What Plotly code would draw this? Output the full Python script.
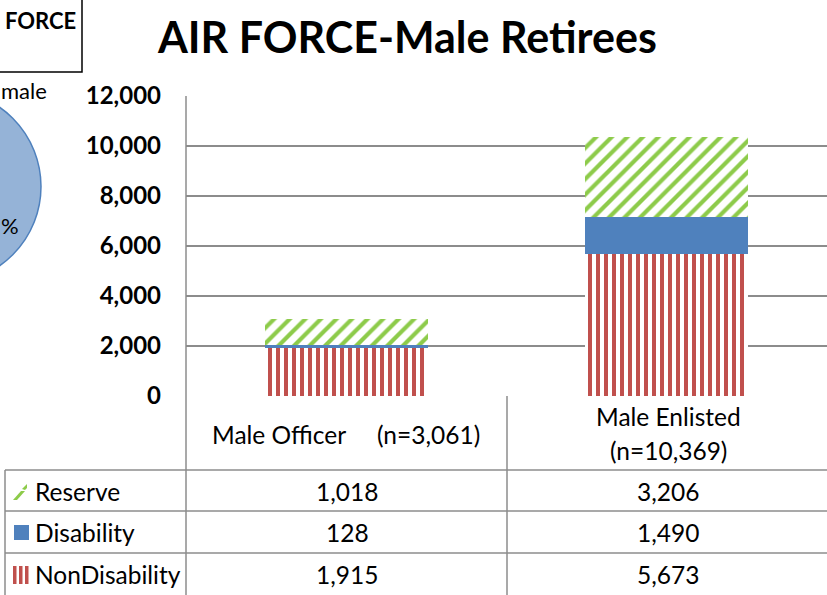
import plotly.graph_objects as go

# ---------------- data ----------------
categories = ["Male Officer", "Male Enlisted"]
nondisability = [1915, 5673]
disability = [128, 1490]
reserve = [1018, 3206]
series_names = ["Reserve", "Disability", "NonDisability"]  # table row order
y_ticks = [0, 2000, 4000, 6000, 8000, 10000, 12000]
title_text = "AIR FORCE-Male Retirees"

# ---------------- helpers ----------------
W, H = 827, 595
FONT = "Lato"
GRID = "#8C8C8C"


def X(px):
    return px / W


def Y(py):
    return 1 - py / H


totals = [a + b + c for a, b, c in zip(nondisability, disability, reserve)]

fig = go.Figure()
BW = 0.51
fig.add_bar(
    x=categories, y=nondisability, name="NonDisability", width=BW,
    marker=dict(color="#C0504D", line_width=0,
                pattern=dict(shape="|", fgcolor="#C0504D", bgcolor="white",
                             size=8, solidity=0.5, fillmode="replace")),
)
fig.add_bar(
    x=categories, y=disability, name="Disability", width=BW,
    marker=dict(color="#4F81BD", line_width=0),
)
fig.add_bar(
    x=categories, y=reserve, name="Reserve", width=BW,
    marker=dict(color="#8DCB4A", line_width=0,
                pattern=dict(shape="/", fgcolor="#8DCB4A", bgcolor="white",
                             size=11, solidity=0.38, fillmode="replace")),
)

shapes = []
annotations = []


def hline(x0, x1, y, color=GRID, w=1.5):
    shapes.append(dict(type="line", xref="paper", yref="paper",
                       x0=X(x0), x1=X(x1), y0=Y(y), y1=Y(y),
                       line=dict(color=color, width=w)))


def vline(x, y0, y1, color=GRID, w=1.5):
    shapes.append(dict(type="line", xref="paper", yref="paper",
                       x0=X(x), x1=X(x), y0=Y(y0), y1=Y(y1),
                       line=dict(color=color, width=w)))


def text(x, y, s, size=24.5, bold=False, anchor="center"):
    annotations.append(dict(xref="paper", yref="paper", x=X(x), y=Y(y),
                            text=s, showarrow=False, xanchor=anchor,
                            yanchor="middle", borderpad=0,
                            font=dict(family=FONT, size=size, color="black",
                                      weight="bold" if bold else "normal")))


# plot-area left border and data table grid
vline(186, 96, 600)
vline(507, 396, 600)
hline(5, 830, 470)
hline(5, 830, 511)
hline(5, 830, 553)
vline(5, 470, 600)

# table header
text(279, 434, categories[0])
text(428, 434, f"(n={totals[0]:,})")
text(668, 416, categories[1])
text(668, 450, f"(n={totals[1]:,})")

# table rows
row_y = [491, 532, 574]
row_vals = {"Reserve": reserve, "Disability": disability,
            "NonDisability": nondisability}
for name, yy in zip(series_names, row_y):
    text(34, yy, name, anchor="left")
    for cx, v in zip([347, 668], row_vals[name]):
        text(cx, yy, f"{v:,}")

# legend keys in table
shapes.append(dict(type="path", xref="paper", yref="paper",
                   path=f"M {X(13)},{Y(500)} L {X(21)},{Y(491)} L {X(25)},{Y(491)} "
                        f"L {X(17)},{Y(500)} Z",
                   fillcolor="#8DCB4A", line_width=0))
shapes.append(dict(type="path", xref="paper", yref="paper",
                   path=f"M {X(22)},{Y(489)} L {X(27)},{Y(484)} L {X(27)},{Y(488)} "
                        f"L {X(25)},{Y(490)} Z",
                   fillcolor="#8DCB4A", line_width=0))
shapes.append(dict(type="rect", xref="paper", yref="paper",
                   x0=X(14), x1=X(29), y0=Y(540), y1=Y(525),
                   fillcolor="#4F81BD", line_width=0))
for bx in [13, 19, 25]:
    shapes.append(dict(type="rect", xref="paper", yref="paper",
                       x0=X(bx), x1=X(bx + 3.5), y0=Y(584), y1=Y(566),
                       fillcolor="#C0504D", line_width=0))

# neighbouring chart fragments on the left
shapes.append(dict(type="rect", xref="paper", yref="paper",
                   x0=X(-60), x1=X(82), y0=Y(72), y1=Y(-5),
                   line=dict(color="black", width=1.5), fillcolor="white"))
text(40, 21, "FORCE", size=22, bold=True)
text(0, 90, "male", size=22, anchor="left")
shapes.append(dict(type="circle", xref="paper", yref="paper",
                   x0=X(-152), x1=X(41), y0=Y(283), y1=Y(90),
                   fillcolor="#95B3D7", line=dict(color="#4F81BD", width=1.5)))
text(0, 225, "%", size=22, anchor="left")

# title
text(407, 36, title_text, size=43, bold=True)

fig.update_layout(
    width=W, height=H,
    margin=dict(l=0, r=0, t=0, b=0, autoexpand=False),
    paper_bgcolor="white", plot_bgcolor="white",
    barmode="stack", showlegend=False, hovermode=False,
    shapes=shapes, annotations=annotations,
    xaxis=dict(domain=[X(186), 1], range=[-0.5, 1.5], showticklabels=False,
               showgrid=False, showline=False, zeroline=False, automargin=False),
    yaxis=dict(domain=[Y(396), Y(96)], range=[0, 12000], tickvals=y_ticks,
               ticktext=[f"{v:,}" for v in y_ticks],
               tickfont=dict(family=FONT, size=24, color="black", weight="bold"),
               showgrid=True, gridcolor=GRID, gridwidth=1.5, zeroline=False,
               showline=False, ticks="", ticklabelstandoff=24, automargin=False),
)

fig.write_html(
    "out.html",
    config={"displayModeBar": False, "staticPlot": True},
    post_script="document.body.style.margin='0';document.body.style.padding='0';"
                "document.body.style.overflow='hidden';",
)
